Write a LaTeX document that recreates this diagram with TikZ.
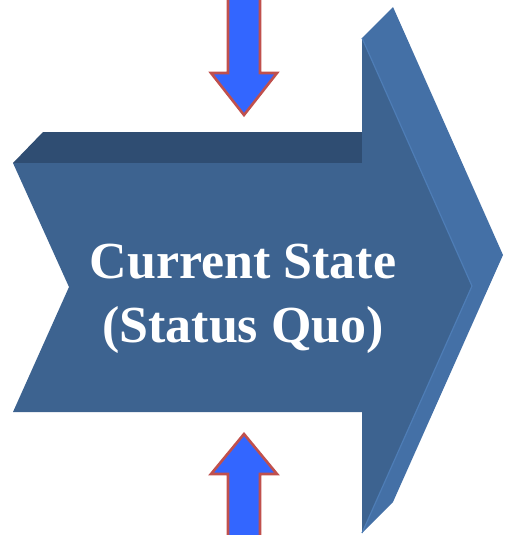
\documentclass[tikz,border=0pt]{standalone}
\usepackage{fontspec}
\setmainfont{Liberation Serif}
\usetikzlibrary{positioning}
\definecolor{frontblue}{RGB}{61,99,144}
\definecolor{topblue}{RGB}{47,77,114}
\definecolor{sideblue}{RGB}{68,112,166}
\definecolor{edgeblue}{RGB}{78,125,182}
\definecolor{pushblue}{RGB}{51,102,255}
\definecolor{pushred}{RGB}{192,80,77}

\tikzset{
    push/.style={fill=pushblue, draw=pushred, line width=2.6pt, line join=miter},
    statetext/.style={text=white, font=\fontsize{52}{64}\selectfont\bfseries, inner sep=0pt, anchor=base}
}

\begin{document}
\begin{tikzpicture}[x=1pt, y=-1pt]
    \useasboundingbox (0,0) rectangle (506,535);

    % front outline of the big arrow
    \coordinate (A) at (13,163);
    \coordinate (N) at (69,287);
    \coordinate (B) at (13,412);
    \coordinate (S1) at (362,163);
    \coordinate (S2) at (362,412);
    \coordinate (H1) at (362,38);
    \coordinate (H2) at (362,533);
    \coordinate (T) at (472,286);

    % depth
    \fill[sideblue] (H1) -- ++(31,-31) coordinate (H1b) -- ++(110,248) coordinate (Tb)
        -- ++(-110,247) coordinate (H2b) -- (H2) -- (T) -- cycle;
    \fill[topblue] (A) -- ++(30,-31) coordinate (Ab) -- (362,132) -- (S1) -- cycle;
    \fill[frontblue] (A) -- (N) -- (B) -- (S2) -- (H2) -- (T) -- (H1) -- (S1) -- cycle;
    \draw[edgeblue, line width=1.2pt] (H1) -- (T) -- (H2);

    \node[statetext] (cur) at (243,278) {Current State};
    \node[statetext] (quo) at ([yshift=-64pt]cur.base) {(Status Quo)};

    % pushing arrows
    \draw[push] (228,-3) -- (228,73) -- (211,73) -- (244,115) -- (277,73) -- (260,73) -- (260,-3);
    \draw[push] (228,538) -- (228,474) -- (211,474) -- (244,434) -- (277,474) -- (260,474) -- (260,538);
\end{tikzpicture}
\end{document}
